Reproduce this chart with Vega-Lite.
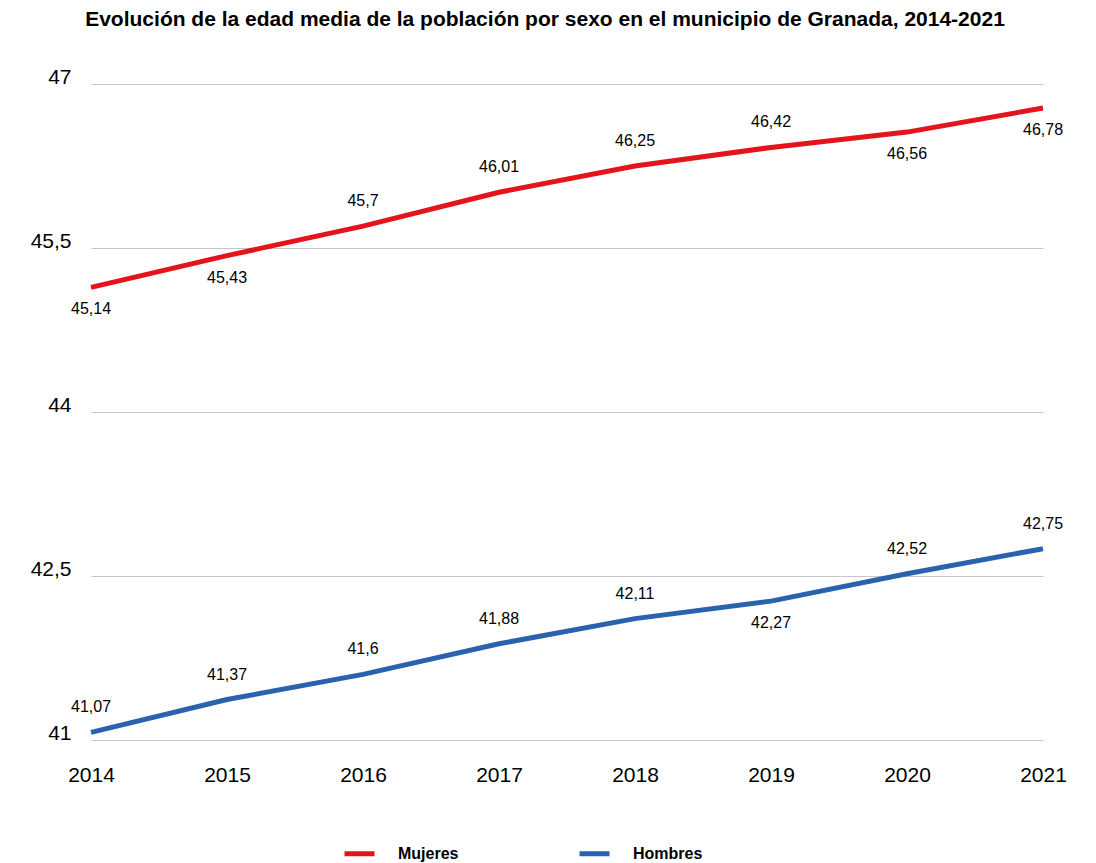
{
  "$schema": "https://vega.github.io/schema/vega-lite/v6.json",
  "autosize": {"type": "none"},
  "width": 952,
  "height": 656,
  "padding": {"left": 91, "top": 84, "right": 53, "bottom": 123},
  "background": "white",
  "title": {
    "text": "Evolución de la edad media de la población por sexo en el municipio de Granada, 2014-2021",
    "font": "Liberation Sans",
    "fontSize": 21,
    "fontWeight": "bold",
    "color": "#000000",
    "anchor": "middle",
    "dx": -22,
    "offset": 36
  },
  "data": {
    "values": [
      {"anio": 2014, "sexo": "Mujeres", "edad": 45.14, "posicion": "abajo"},
      {"anio": 2015, "sexo": "Mujeres", "edad": 45.43, "posicion": "abajo"},
      {"anio": 2016, "sexo": "Mujeres", "edad": 45.7, "posicion": "arriba"},
      {"anio": 2017, "sexo": "Mujeres", "edad": 46.01, "posicion": "arriba"},
      {"anio": 2018, "sexo": "Mujeres", "edad": 46.25, "posicion": "arriba"},
      {"anio": 2019, "sexo": "Mujeres", "edad": 46.42, "posicion": "arriba"},
      {"anio": 2020, "sexo": "Mujeres", "edad": 46.56, "posicion": "abajo"},
      {"anio": 2021, "sexo": "Mujeres", "edad": 46.78, "posicion": "abajo"},
      {"anio": 2014, "sexo": "Hombres", "edad": 41.07, "posicion": "arriba"},
      {"anio": 2015, "sexo": "Hombres", "edad": 41.37, "posicion": "arriba"},
      {"anio": 2016, "sexo": "Hombres", "edad": 41.6, "posicion": "arriba"},
      {"anio": 2017, "sexo": "Hombres", "edad": 41.88, "posicion": "arriba"},
      {"anio": 2018, "sexo": "Hombres", "edad": 42.11, "posicion": "arriba"},
      {"anio": 2019, "sexo": "Hombres", "edad": 42.27, "posicion": "abajo"},
      {"anio": 2020, "sexo": "Hombres", "edad": 42.52, "posicion": "arriba"},
      {"anio": 2021, "sexo": "Hombres", "edad": 42.75, "posicion": "arriba"}
    ]
  },
  "encoding": {
    "x": {
      "field": "anio",
      "type": "quantitative",
      "scale": {"domain": [2014, 2021], "nice": false, "zero": false},
      "axis": {
        "title": null,
        "values": [2014, 2015, 2016, 2017, 2018, 2019, 2020, 2021],
        "format": "d",
        "grid": false,
        "domain": false,
        "ticks": false,
        "labelFont": "Liberation Sans",
        "labelFontSize": 21,
        "labelColor": "#000000",
        "labelPadding": 24,
        "labelFlush": false
      }
    },
    "y": {
      "field": "edad",
      "type": "quantitative",
      "scale": {"domain": [41, 47], "nice": false, "zero": false},
      "axis": {
        "title": null,
        "values": [41, 42.5, 44, 45.5, 47],
        "format": ".4~g",
        "domain": false,
        "ticks": false,
        "grid": true,
        "gridColor": "#c6c6c6",
        "gridWidth": 1,
        "labelFont": "Liberation Sans",
        "labelFontSize": 21,
        "labelColor": "#000000",
        "labelPadding": 20,
        "labelBaseline": "alphabetic",
        "labelOffset": -1
      }
    },
    "color": {
      "field": "sexo",
      "type": "nominal",
      "scale": {"domain": ["Mujeres", "Hombres"], "range": ["#e3141c", "#2a63ad"]},
      "legend": {
        "title": null,
        "orient": "none",
        "direction": "horizontal",
        "legendX": 251,
        "legendY": 752,
        "symbolType": "stroke",
        "symbolSize": 900,
        "symbolStrokeWidth": 5,
        "labelFont": "Liberation Sans",
        "labelFontSize": 16,
        "labelFontWeight": "bold",
        "labelColor": "#000000",
        "labelOffset": 21,
        "columnPadding": 110
      }
    }
  },
  "layer": [
    {
      "mark": {"type": "line", "strokeWidth": 5, "strokeCap": "butt"}
    },
    {
      "transform": [{"filter": "datum.posicion === 'arriba'"}],
      "mark": {"type": "text", "font": "Liberation Sans", "fontSize": 16, "color": "#000000", "dy": -25, "baseline": "middle", "align": "center"},
      "encoding": {
        "text": {"field": "edad", "type": "quantitative", "format": ".4~g"},
        "color": {"value": "#000000"}
      }
    },
    {
      "transform": [{"filter": "datum.posicion === 'abajo'"}],
      "mark": {"type": "text", "font": "Liberation Sans", "fontSize": 16, "color": "#000000", "dy": 22, "baseline": "middle", "align": "center"},
      "encoding": {
        "text": {"field": "edad", "type": "quantitative", "format": ".4~g"},
        "color": {"value": "#000000"}
      }
    }
  ],
  "config": {
    "view": {"stroke": null},
    "locale": {
      "number": {"decimal": ",", "thousands": ".", "grouping": [3], "currency": ["", " €"]}
    }
  }
}
